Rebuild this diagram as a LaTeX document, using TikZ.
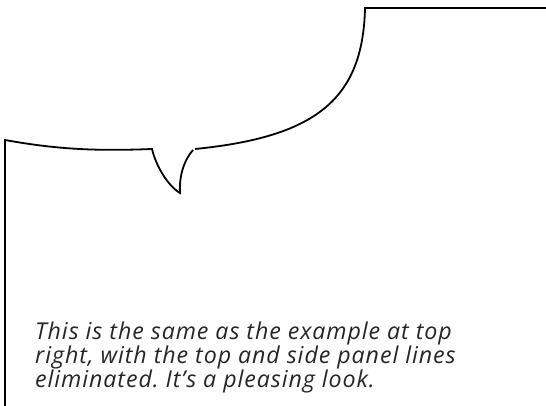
\documentclass[tikz,border=0pt]{standalone}
\usepackage{fontspec}
\setmainfont{Open Sans}
\newfontfamily\captionfont[LetterSpace=4]{Open Sans}
\frenchspacing
\begin{document}
\begin{tikzpicture}[x=1pt,y=-1pt,
  panel/.style={line width=1.8pt,black,line join=miter},
  caption/.style={anchor=base west,inner sep=0pt,font=\captionfont\itshape\fontsize{23.2}{24}\selectfont,text=black!85}]
\useasboundingbox (0,0) rectangle (546,406);
% coordinates of the panel outline
\coordinate (bottomleft) at (5,406);
\coordinate (leftcorner) at (5,140);
\coordinate (tailleft) at (152,149);
\coordinate (tailtip) at (180,193);
\coordinate (tailright) at (193,150);
\coordinate (curvestart) at (195,149);
\coordinate (topcorner) at (365,8);
\coordinate (topright) at (546,8);
% outline
\draw[panel] (bottomleft) -- (leftcorner)
  .. controls (60,150) and (100,151) .. (tailleft)
  .. controls (156,166) and (168,186) .. (tailtip)
  .. controls (179,176) and (184,160) .. (tailright);
\draw[panel] (curvestart) .. controls (315,137) and (363,100) .. (topcorner) -- (topright);
% caption
\node[caption] (t1) at (35,339) {This is the same as the example at top};
\node[caption] (t2) at (35,363) {right, with the top and side panel lines};
\node[caption] (t3) at (35,387) {eliminated. It’s a pleasing look.};
\end{tikzpicture}
\end{document}
